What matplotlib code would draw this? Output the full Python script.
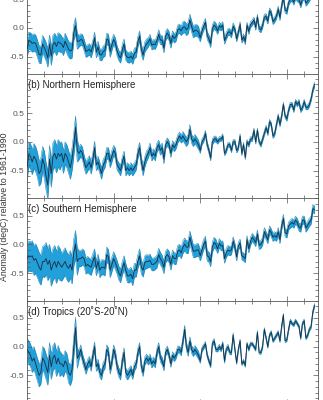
import numpy as np
import matplotlib
matplotlib.use("Agg")
import matplotlib.pyplot as plt
from matplotlib.ticker import MultipleLocator, FixedLocator

plt.rcParams['font.family'] = ['Liberation Sans', 'DejaVu Sans']
plt.rcParams['axes.unicode_minus'] = False

years = list(range(1850, 2017))

# Annual temperature anomalies (degC, relative to 1961-1990)
global_anom = [
    -0.37, -0.22, -0.23, -0.27, -0.25, -0.27, -0.36, -0.46, -0.47, -0.28,
    -0.34, -0.41, -0.52, -0.28, -0.49, -0.28, -0.25, -0.32, -0.24, -0.26,
    -0.28, -0.34, -0.23, -0.30, -0.37, -0.40, -0.38, -0.08, 0.04, -0.23,
    -0.23, -0.20, -0.21, -0.30, -0.41, -0.39, -0.37, -0.42, -0.31, -0.17,
    -0.42, -0.33, -0.46, -0.47, -0.41, -0.39, -0.19, -0.21, -0.41, -0.29,
    -0.20, -0.26, -0.40, -0.48, -0.52, -0.38, -0.28, -0.47, -0.51, -0.52,
    -0.49, -0.54, -0.44, -0.42, -0.24, -0.14, -0.38, -0.47, -0.33, -0.28,
    -0.25, -0.19, -0.30, -0.28, -0.29, -0.22, -0.11, -0.21, -0.21, -0.35,
    -0.14, -0.09, -0.14, -0.27, -0.13, -0.18, -0.15, -0.03, -0.01, -0.05,
    0.01, 0.02, -0.03, 0.00, 0.14, 0.03, -0.07, -0.04, -0.04, -0.07,
    -0.17, -0.05, 0.03, 0.10, -0.13, -0.19, -0.27, -0.01, 0.05, 0.02,
    -0.05, 0.04, 0.01, 0.05, -0.22, -0.14, -0.07, -0.07, -0.11, 0.03,
    -0.03, -0.19, -0.07, 0.06, -0.21, -0.15, -0.24, 0.05, -0.06, 0.06,
    0.09, 0.14, 0.01, 0.19, -0.01, -0.03, 0.05, 0.19, 0.20, 0.12,
    0.30, 0.25, 0.11, 0.15, 0.21, 0.33, 0.18, 0.39, 0.54, 0.31,
    0.29, 0.44, 0.50, 0.51, 0.45, 0.55, 0.51, 0.49, 0.40, 0.51,
    0.56, 0.43, 0.47, 0.51, 0.58, 0.76, 0.80,
]

nh_anom = [
    -0.45, -0.22, -0.25, -0.35, -0.25, -0.30, -0.40, -0.55, -0.50, -0.30,
    -0.40, -0.60, -0.75, -0.30, -0.55, -0.25, -0.20, -0.30, -0.20, -0.25,
    -0.20, -0.35, -0.20, -0.25, -0.35, -0.45, -0.30, -0.05, 0.25, -0.15,
    -0.20, -0.15, -0.20, -0.35, -0.45, -0.40, -0.35, -0.45, -0.30, -0.10,
    -0.40, -0.35, -0.45, -0.55, -0.40, -0.35, -0.20, -0.20, -0.35, -0.25,
    -0.15, -0.20, -0.40, -0.45, -0.50, -0.35, -0.25, -0.50, -0.45, -0.50,
    -0.45, -0.50, -0.45, -0.40, -0.20, -0.10, -0.35, -0.50, -0.35, -0.25,
    -0.20, -0.10, -0.25, -0.20, -0.25, -0.10, -0.05, -0.15, -0.10, -0.30,
    -0.05, 0.00, -0.05, -0.20, -0.05, -0.10, -0.05, 0.05, 0.10, 0.05,
    0.10, 0.05, 0.00, 0.05, 0.22, 0.05, 0.00, 0.05, 0.00, -0.05,
    -0.15, 0.00, 0.05, 0.15, -0.05, -0.15, -0.28, 0.00, 0.05, 0.05,
    0.00, 0.05, 0.05, 0.10, -0.20, -0.15, -0.05, -0.05, -0.15, 0.00,
    0.00, -0.15, -0.10, 0.10, -0.20, -0.05, -0.27, 0.00, -0.05, 0.05,
    0.05, 0.20, 0.00, 0.20, 0.00, -0.05, 0.05, 0.15, 0.25, 0.15,
    0.35, 0.30, 0.10, 0.15, 0.30, 0.45, 0.30, 0.45, 0.65, 0.45,
    0.40, 0.55, 0.65, 0.65, 0.55, 0.70, 0.65, 0.70, 0.55, 0.60,
    0.70, 0.60, 0.60, 0.65, 0.75, 0.90, 1.00,
]

sh_anom = [
    -0.25, -0.20, -0.22, -0.20, -0.28, -0.25, -0.32, -0.40, -0.45, -0.30,
    -0.30, -0.25, -0.35, -0.28, -0.45, -0.35, -0.30, -0.40, -0.30, -0.35,
    -0.40, -0.35, -0.30, -0.38, -0.42, -0.35, -0.45, -0.15, 0.00, -0.30,
    -0.25, -0.25, -0.22, -0.25, -0.38, -0.35, -0.38, -0.40, -0.30, -0.22,
    -0.42, -0.30, -0.45, -0.40, -0.40, -0.42, -0.18, -0.22, -0.45, -0.35,
    -0.25, -0.32, -0.40, -0.50, -0.55, -0.42, -0.32, -0.45, -0.55, -0.55,
    -0.52, -0.60, -0.45, -0.45, -0.30, -0.20, -0.40, -0.45, -0.32, -0.30,
    -0.30, -0.28, -0.35, -0.35, -0.33, -0.30, -0.18, -0.25, -0.30, -0.40,
    -0.22, -0.18, -0.22, -0.35, -0.20, -0.25, -0.25, -0.12, -0.10, -0.15,
    -0.05, 0.00, -0.05, -0.05, 0.12, 0.00, -0.12, -0.12, -0.10, -0.10,
    -0.20, -0.10, 0.00, 0.05, -0.20, -0.22, -0.30, -0.05, 0.03, 0.00,
    -0.08, 0.02, -0.03, -0.02, -0.25, -0.15, -0.10, -0.12, -0.10, 0.05,
    -0.05, -0.22, -0.03, 0.02, -0.20, -0.22, -0.25, 0.08, -0.08, 0.05,
    0.12, 0.08, 0.03, 0.18, -0.02, 0.00, 0.05, 0.22, 0.15, 0.08,
    0.25, 0.20, 0.12, 0.15, 0.12, 0.22, 0.08, 0.32, 0.45, 0.20,
    0.18, 0.32, 0.35, 0.38, 0.35, 0.42, 0.38, 0.30, 0.28, 0.42,
    0.42, 0.28, 0.33, 0.38, 0.42, 0.62, 0.60,
]

tropics_anom = [
    -0.05, -0.10, -0.15, -0.25, -0.20, -0.30, -0.40, -0.50, -0.45, -0.20,
    -0.25, -0.35, -0.45, -0.15, -0.35, -0.20, -0.15, -0.30, -0.20, -0.30,
    -0.30, -0.35, -0.25, -0.30, -0.45, -0.50, -0.40, 0.00, 0.33, -0.20,
    -0.15, -0.05, -0.20, -0.30, -0.40, -0.30, -0.25, -0.35, -0.15, 0.00,
    -0.35, -0.30, -0.45, -0.50, -0.35, -0.30, -0.05, -0.10, -0.40, -0.25,
    -0.05, -0.15, -0.35, -0.45, -0.50, -0.25, -0.10, -0.45, -0.50, -0.45,
    -0.40, -0.50, -0.35, -0.30, -0.10, 0.00, -0.35, -0.45, -0.25, -0.20,
    -0.25, -0.20, -0.30, -0.25, -0.30, -0.10, 0.00, -0.20, -0.25, -0.35,
    -0.10, -0.05, -0.15, -0.30, -0.15, -0.20, -0.15, -0.05, -0.05, -0.10,
    0.10, 0.30, 0.00, -0.10, 0.10, -0.05, -0.10, -0.05, -0.10, -0.15,
    -0.25, -0.05, 0.00, 0.05, -0.15, -0.25, -0.33, 0.05, 0.10, -0.05,
    -0.05, 0.00, -0.05, 0.05, -0.25, -0.05, 0.00, -0.10, -0.10, 0.20,
    -0.05, -0.28, -0.05, 0.10, -0.30, -0.25, -0.33, 0.05, -0.05, 0.05,
    0.05, 0.00, -0.05, 0.25, -0.10, -0.10, 0.00, 0.30, 0.15, 0.00,
    0.20, 0.25, 0.10, 0.15, 0.20, 0.25, 0.10, 0.35, 0.55, 0.10,
    0.12, 0.30, 0.45, 0.40, 0.38, 0.45, 0.40, 0.35, 0.15, 0.40,
    0.45, 0.15, 0.20, 0.30, 0.35, 0.60, 0.72,
]

# Uncertainty half-widths (degC), one value per decade 1850s..2010s
decades = list(range(1850, 2020, 10))
global_unc = [0.15, 0.16, 0.14, 0.10, 0.10, 0.09, 0.09, 0.08, 0.08, 0.10,
              0.07, 0.06, 0.05, 0.05, 0.05, 0.05, 0.05]
nh_unc = [0.22, 0.24, 0.20, 0.11, 0.10, 0.09, 0.09, 0.08, 0.07, 0.08,
          0.05, 0.04, 0.04, 0.04, 0.04, 0.04, 0.04]
sh_unc = [0.26, 0.28, 0.24, 0.14, 0.13, 0.12, 0.12, 0.11, 0.10, 0.11,
          0.09, 0.08, 0.07, 0.07, 0.07, 0.07, 0.07]
tropics_unc = [0.20, 0.22, 0.18, 0.08, 0.08, 0.08, 0.07, 0.07, 0.06, 0.07,
               0.04, 0.04, 0.03, 0.03, 0.03, 0.03, 0.03]

# The global panel's title sits above the visible area, so only (b)-(d) carry labels
panel_labels = [None, "(b) Northern Hemisphere",
                "(c) Southern Hemisphere", "(d) Tropics (20\u02daS-20\u02daN)"]
ylabel = "Anomaly (degC) relative to 1961-1990"

series = [global_anom, nh_anom, sh_anom, tropics_anom]
uncs = [global_unc, nh_unc, sh_unc, tropics_unc]
ylims = [(-0.8, 1.0), (-0.98, 1.18), (-0.98, 0.8), (-1.0, 0.8)]

W, H = 323, 400
fig = plt.figure(figsize=(W / 100, H / 100), dpi=100)

px_per_unit = 57.5
left_px, right_px = 27, 318
bottom_edges = [74, 198.2, 300.6, 404.1]

band_color = "#22a0da"
edge_color = "#2580ad"
line_color = "#1b3247"

yrs = np.array(years)
dec_idx = (yrs - decades[0]) // 10

for i in range(4):
    lo, hi = ylims[i]
    h_px = (hi - lo) * px_per_unit
    b_px = bottom_edges[i]
    ax = fig.add_axes([left_px / W, 1 - b_px / H, (right_px - left_px) / W, h_px / H])
    vals = np.array(series[i])
    hw = np.array(uncs[i])[dec_idx]
    ax.fill_between(yrs, vals - hw, vals + hw, color=band_color, lw=0, zorder=1)
    ax.plot(yrs, vals - hw, color=edge_color, lw=0.35, zorder=2)
    ax.plot(yrs, vals + hw, color=edge_color, lw=0.35, zorder=2)
    ax.plot(yrs, vals, color=line_color, lw=0.65, zorder=3)
    ax.set_xlim(1850, 2018)
    ax.set_ylim(lo, hi)
    ax.yaxis.set_major_locator(FixedLocator([-0.5, 0.0, 0.5]))
    ax.yaxis.set_minor_locator(MultipleLocator(0.1))
    ax.xaxis.set_major_locator(FixedLocator([1900, 1950, 2000]))
    ax.xaxis.set_minor_locator(MultipleLocator(10))
    ax.set_yticklabels(["-0.5", "0.0", "0.5"])
    ax.tick_params(axis='both', which='both', direction='in', top=True, right=True,
                   colors="#555555", labelsize=6, width=0.5)
    ax.tick_params(axis='both', which='major', length=3.5, pad=2)
    ax.tick_params(axis='both', which='minor', length=2)
    ax.tick_params(axis='x', labelbottom=False)
    for s in ax.spines.values():
        s.set_linewidth(0.6)
        s.set_color("#555555")
    if panel_labels[i]:
        ax.annotate(panel_labels[i], xy=(0, 1), xycoords='axes fraction',
                    xytext=(1, -4), textcoords='offset points', va='top', ha='left',
                    fontsize=7, color="#222222")

fig.text(5 / W, 1 - 207 / H, ylabel, rotation=90, va='center', ha='center',
         fontsize=6.3, color="#333333")

fig.savefig("out.png", dpi=100)
